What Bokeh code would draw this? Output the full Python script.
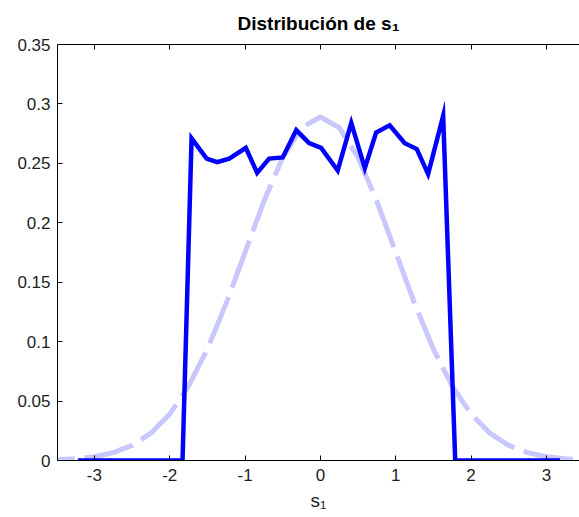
from bokeh.plotting import figure
from bokeh.models import Range1d, FixedTicker, LinearAxis
from bokeh.embed import file_html
from bokeh.resources import INLINE

# Empirical density of s1 (histogram estimate)
s1_x = [-3.22, -1.83, -1.71, -1.51, -1.37, -1.21, -0.99, -0.84, -0.68, -0.50, -0.32,
        -0.15, 0.01, 0.23, 0.41, 0.59, 0.74, 0.92, 1.12, 1.28, 1.43, 1.63, 1.79, 3.18]
s1_density = [0.0, 0.0, 0.271, 0.254, 0.251, 0.254, 0.263, 0.242, 0.254, 0.255, 0.278,
              0.267, 0.263, 0.244, 0.284, 0.246, 0.276, 0.282, 0.267, 0.262, 0.241, 0.290, 0.0, 0.0]

# Reference bell curve
bell_x = [-3.5, -3.25, -3.0, -2.75, -2.5, -2.25, -2.0, -1.75, -1.5, -1.25, -1.0, -0.75,
          -0.5, -0.25, 0.0, 0.25, 0.5, 0.75, 1.0, 1.25, 1.5, 1.75, 2.0, 2.25, 2.5, 2.75,
          3.0, 3.25, 3.5]
bell_y = [0.0006, 0.0015, 0.0032, 0.0066, 0.0127, 0.0230, 0.0391, 0.0625, 0.0938, 0.1322,
          0.1752, 0.2181, 0.2550, 0.2800, 0.2890, 0.2800, 0.2550, 0.2181, 0.1752, 0.1322,
          0.0938, 0.0625, 0.0391, 0.0230, 0.0127, 0.0066, 0.0032, 0.0015, 0.0006]

x_ticks = [-3, -2, -1, 0, 1, 2, 3]
x_tick_labels = ["-3", "-2", "-1", "0", "1", "2", "3"]
y_ticks = [0, 0.05, 0.1, 0.15, 0.2, 0.25, 0.3, 0.35]
y_tick_labels = ["0", "0.05", "0.1", "0.15", "0.2", "0.25", "0.3", "0.35"]

FONT = "Liberation Sans"
INK = "#1e1e1e"

p = figure(width=579, height=517, output_backend="svg", toolbar_location=None,
           x_range=Range1d(-3.49, 3.44), y_range=Range1d(0, 0.35),
           min_border_left=57, min_border_right=0, min_border_top=44, min_border_bottom=57,
           title="Distribución de s\u2081")
p.xgrid.visible = False
p.ygrid.visible = False
p.outline_line_color = None
p.background_fill_color = "white"
p.border_fill_color = "white"

p.title.align = "center"
p.title.text_font = FONT
p.title.text_font_style = "bold"
p.title.text_font_size = "19px"
p.title.text_color = "black"
p.title.standoff = 21


def style_axis(ax, ticks, labels=None):
    ax.ticker = FixedTicker(ticks=ticks)
    ax.minor_tick_line_color = None
    ax.major_tick_in = 5
    ax.major_tick_out = 0
    ax.axis_line_color = "black"
    ax.major_tick_line_color = "black"
    ax.major_label_text_font = FONT
    ax.major_label_text_font_size = "17px"
    ax.major_label_text_color = INK
    if labels is not None:
        ax.major_label_overrides = {t: s for t, s in zip(ticks, labels)}


style_axis(p.xaxis[0], x_ticks, x_tick_labels)
p.xaxis[0].major_label_standoff = 8
p.xaxis[0].axis_label = "s\u2081"
p.xaxis[0].axis_label_text_font = FONT
p.xaxis[0].axis_label_text_font_style = "normal"
p.xaxis[0].axis_label_text_font_size = "19px"
p.xaxis[0].axis_label_text_color = INK
p.xaxis[0].axis_label_standoff = 6

style_axis(p.yaxis[0], y_ticks, y_tick_labels)
p.yaxis[0].major_label_standoff = 7

# Upper box edge with inward ticks, no labels
top = LinearAxis()
style_axis(top, x_ticks)
top.major_label_text_color = None
top.major_label_text_font_size = "1px"
top.major_label_standoff = 0
p.add_layout(top, "above")

p.line(bell_x, bell_y, line_color="#c8c8ff", line_width=5, line_dash="50 10",
       line_dash_offset=32)
p.line(s1_x, s1_density, line_color="#0000ff", line_width=4.5, line_join="miter")

open("out.html", "w").write(file_html(p, INLINE))
